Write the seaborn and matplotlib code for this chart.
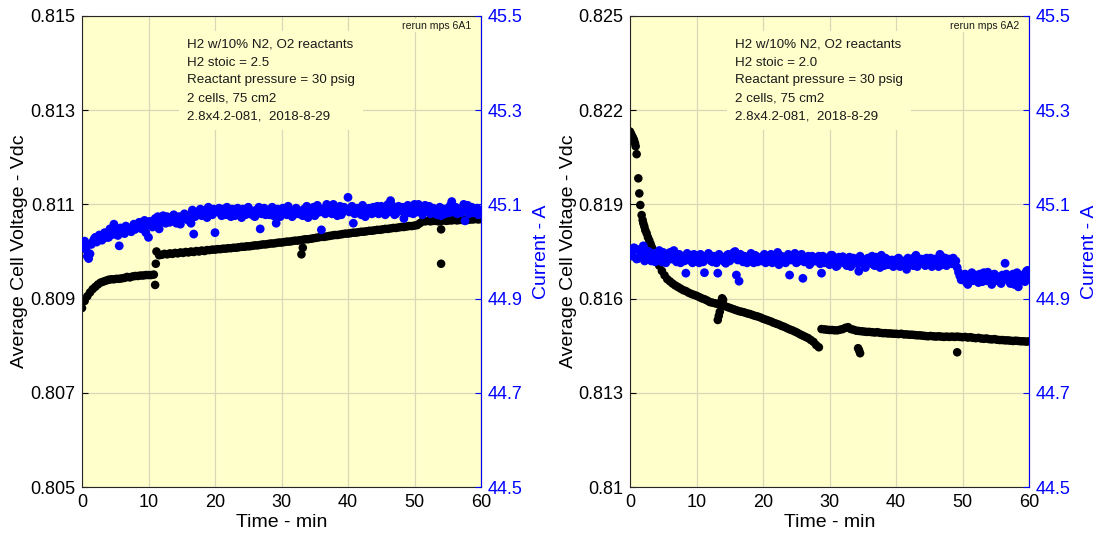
import numpy as np
import pandas as pd
import matplotlib
matplotlib.use("Agg")
import matplotlib.pyplot as plt
import seaborn as sns

sns.set_theme(style="white")
plt.rcParams["font.family"] = ["Liberation Sans", "DejaVu Sans"]

# ---------------- data ----------------
# regular sampling every 0.4 min, 0 .. 60 min (rows of 10 = 4 minutes)
t_reg = [round(0.4 * k, 1) for k in range(151)]
# in-between samples at 0.2, 0.6, ... 59.8 min (current only)
t_mid = [round(0.2 + 0.4 * k, 1) for k in range(150)]

# Left panel (mps 6A1): average cell voltage, V
left_voltage = [
    0.80880, 0.80895, 0.80905, 0.80913, 0.80920, 0.80925, 0.80930, 0.80934, 0.80936, 0.80938,
    0.80940, 0.80941, 0.80941, 0.80942, 0.80942, 0.80943, 0.80944, 0.80946, 0.80945, 0.80947,
    0.80948, 0.80948, 0.80949, 0.80949, 0.80950, 0.80950, 0.80950, 0.80951, 0.81000, 0.80992,
    0.80993, 0.80995, 0.80994, 0.80996, 0.80995, 0.80997, 0.80996, 0.80998, 0.80997, 0.80999,
    0.80998, 0.81000, 0.80999, 0.81001, 0.81000, 0.81002, 0.81001, 0.81003, 0.81003, 0.81004,
    0.81004, 0.81005, 0.81005, 0.81006, 0.81006, 0.81007, 0.81007, 0.81008, 0.81008, 0.81009,
    0.81010, 0.81010, 0.81011, 0.81011, 0.81012, 0.81013, 0.81013, 0.81014, 0.81015, 0.81015,
    0.81016, 0.81017, 0.81017, 0.81018, 0.81019, 0.81019, 0.81020, 0.81021, 0.81021, 0.81022,
    0.81023, 0.81023, 0.81024, 0.81025, 0.81026, 0.81026, 0.81027, 0.81028, 0.81029, 0.81030,
    0.81031, 0.81031, 0.81032, 0.81033, 0.81034, 0.81035, 0.81035, 0.81036, 0.81037, 0.81038,
    0.81038, 0.81039, 0.81040, 0.81040, 0.81041, 0.81042, 0.81042, 0.81043, 0.81044, 0.81044,
    0.81045, 0.81046, 0.81046, 0.81047, 0.81048, 0.81048, 0.81049, 0.81050, 0.81050, 0.81051,
    0.81052, 0.81052, 0.81053, 0.81054, 0.81054, 0.81055, 0.81056, 0.81060, 0.81064, 0.81064,
    0.81065, 0.81064, 0.81065, 0.81065, 0.81064, 0.81065, 0.81066, 0.81065, 0.81066, 0.81066,
    0.81067, 0.81066, 0.81067, 0.81067, 0.81068, 0.81067, 0.81068, 0.81068, 0.81069, 0.81068,
    0.81069,
]
left_outlier_t = [11.0, 11.1, 33.0, 33.2, 54.0, 54.0]
left_outlier_v = [0.80929, 0.80974, 0.80994, 0.81008, 0.80974, 0.81047]

# Left panel: current, A (at t_reg)
left_current = [
    45.010, 45.022, 44.990, 44.995, 45.020, 45.030, 45.025, 45.032, 45.028, 45.036,
    45.030, 45.042, 45.058, 45.040, 45.012, 45.044, 45.038, 45.048, 45.044, 45.052,
    45.047, 45.055, 45.050, 45.060, 45.040, 45.030, 45.062, 45.058, 45.068, 45.048,
    45.070, 45.066, 45.074, 45.062, 45.070, 45.064, 45.072, 45.058, 45.070, 45.075,
    45.066, 45.060, 45.037, 45.080, 45.084, 45.076, 45.082, 45.072, 45.086, 45.078,
    45.040, 45.088, 45.082, 45.090, 45.078, 45.084, 45.074, 45.088, 45.080, 45.086,
    45.072, 45.084, 45.090, 45.080, 45.086, 45.074, 45.082, 45.048, 45.088, 45.078,
    45.084, 45.090, 45.076, 45.060, 45.086, 45.080, 45.090, 45.078, 45.084, 45.074,
    45.088, 45.080, 45.086, 45.076, 45.082, 45.072, 45.086, 45.094, 45.080, 45.088,
    45.046, 45.084, 45.100, 45.092, 45.080, 45.088, 45.076, 45.096, 45.084, 45.088,
    45.115, 45.086, 45.060, 45.090, 45.082, 45.078, 45.090, 45.084, 45.092, 45.080,
    45.088, 45.096, 45.082, 45.090, 45.078, 45.100, 45.108, 45.090, 45.080, 45.096,
    45.086, 45.070, 45.088, 45.082, 45.092, 45.100, 45.084, 45.092, 45.078, 45.098,
    45.086, 45.080, 45.092, 45.082, 45.088, 45.076, 45.090, 45.084, 45.082, 45.106,
    45.088, 45.080, 45.086, 45.092, 45.065, 45.098, 45.086, 45.082, 45.090, 45.078,
    45.086,
]
# Left panel: current, A (at t_mid)
left_current_mid = [
    45.018, 45.004, 44.985, 45.015, 45.026, 45.020, 45.035, 45.024, 45.040, 45.030,
    45.048, 45.036, 45.046, 45.034, 45.050, 45.040, 45.054, 45.046, 45.042, 45.058,
    45.052, 45.062, 45.048, 45.066, 45.056, 45.064, 45.052, 45.070, 45.074, 45.062,
    45.076, 45.060, 45.072, 45.068, 45.078, 45.060, 45.074, 45.068, 45.080, 45.072,
    45.078, 45.088, 45.074, 45.084, 45.090, 45.080, 45.088, 45.094, 45.082, 45.090,
    45.084, 45.092, 45.076, 45.086, 45.094, 45.082, 45.090, 45.076, 45.092, 45.084,
    45.090, 45.078, 45.094, 45.084, 45.076, 45.088, 45.094, 45.080, 45.092, 45.086,
    45.078, 45.094, 45.084, 45.090, 45.074, 45.092, 45.082, 45.096, 45.086, 45.080,
    45.092, 45.084, 45.078, 45.090, 45.096, 45.082, 45.088, 45.076, 45.098, 45.084,
    45.090, 45.080, 45.094, 45.086, 45.100, 45.082, 45.092, 45.078, 45.094, 45.090,
    45.084, 45.096, 45.080, 45.092, 45.086, 45.098, 45.074, 45.090, 45.084, 45.094,
    45.090, 45.080, 45.096, 45.086, 45.092, 45.084, 45.098, 45.078, 45.092, 45.088,
    45.094, 45.082, 45.098, 45.088, 45.080, 45.092, 45.100, 45.086, 45.094, 45.090,
    45.096, 45.084, 45.090, 45.078, 45.094, 45.088, 45.080, 45.092, 45.098, 45.084,
    45.094, 45.090, 45.082, 45.100, 45.088, 45.080, 45.094, 45.086, 45.092, 45.084,
]

# Right panel (mps 6A2): early fast decay sampled at the dots visible
right_early_t = [0.0, 0.15, 0.3, 0.45, 0.6, 0.75, 0.85, 1.0, 1.25, 1.4, 1.55, 1.75,
                 1.9, 2.0, 2.15, 2.3, 2.5, 2.7, 2.9, 3.1, 3.3, 3.5, 3.7]
right_early_v = [0.82132, 0.82125, 0.82118, 0.82112, 0.82105, 0.82095, 0.82085, 0.82060,
                 0.81983, 0.81935, 0.81898, 0.81866, 0.81850, 0.81840, 0.81830, 0.81818,
                 0.81808, 0.81795, 0.81785, 0.81774, 0.81763, 0.81752, 0.81741]
# then every 0.4 min from 4.0 to 60.0
right_voltage = [
    0.81725, 0.81705, 0.81688, 0.81674, 0.81662, 0.81655, 0.81648, 0.81642, 0.81637, 0.81632,
    0.81627, 0.81624, 0.81619, 0.81615, 0.81612, 0.81609, 0.81605, 0.81601, 0.81598, 0.81594,
    0.81589, 0.81587, 0.81585, 0.81583, 0.81581, 0.81578, 0.81575, 0.81572, 0.81569, 0.81566,
    0.81563, 0.81560, 0.81558, 0.81556, 0.81553, 0.81551, 0.81548, 0.81545, 0.81543, 0.81540,
    0.81536, 0.81533, 0.81530, 0.81527, 0.81523, 0.81520, 0.81517, 0.81513, 0.81510, 0.81506,
    0.81502, 0.81499, 0.81495, 0.81491, 0.81486, 0.81482, 0.81478, 0.81474, 0.81468, 0.81462,
    0.81452, 0.81445, 0.81503, 0.81502, 0.81501, 0.81500, 0.81500, 0.81499, 0.81499, 0.81501,
    0.81503, 0.81507, 0.81509, 0.81503, 0.81501, 0.81498, 0.81497, 0.81496, 0.81495, 0.81494,
    0.81494, 0.81493, 0.81492, 0.81493, 0.81491, 0.81490, 0.81490, 0.81489, 0.81489, 0.81488,
    0.81488, 0.81487, 0.81488, 0.81486, 0.81486, 0.81485, 0.81485, 0.81484, 0.81483, 0.81483,
    0.81482, 0.81481, 0.81480, 0.81481, 0.81480, 0.81479, 0.81480, 0.81479, 0.81478, 0.81479,
    0.81478, 0.81479, 0.81478, 0.81479, 0.81478, 0.81477, 0.81478, 0.81476, 0.81477, 0.81475,
    0.81474, 0.81475, 0.81473, 0.81472, 0.81473, 0.81471, 0.81470, 0.81471, 0.81469, 0.81468,
    0.81468, 0.81467, 0.81467, 0.81466, 0.81465, 0.81466, 0.81465, 0.81464, 0.81464, 0.81463,
    0.81464,
]
right_outlier_t = [13.2, 13.35, 13.5, 13.7, 13.85, 14.0, 34.3, 34.45, 34.6, 49.2]
right_outlier_v = [0.81532, 0.81545, 0.81558, 0.81590, 0.81601, 0.81596,
                   0.81442, 0.81435, 0.81426, 0.81429]

# Right panel: current, A (at t_reg)
right_current = [
    45.003, 44.990, 45.006, 44.985, 44.996, 45.012, 44.988, 45.000, 44.980, 44.995,
    44.986, 45.002, 44.978, 44.992, 44.984, 44.998, 45.000, 44.982, 44.990, 44.976,
    44.988, 44.954, 44.992, 44.980, 44.994, 44.985, 44.976, 44.990, 44.955, 44.984,
    44.992, 44.978, 44.986, 44.954, 44.990, 44.982, 44.975, 44.994, 44.986, 44.998,
    44.950, 44.937, 44.984, 44.990, 44.976, 44.988, 44.982, 44.992, 44.978, 44.986,
    44.990, 44.976, 44.984, 44.994, 44.980, 44.986, 44.972, 44.990, 44.982, 44.988,
    44.950, 44.984, 44.996, 44.978, 44.988, 44.943, 44.982, 44.990, 44.976, 44.986,
    44.980, 44.990, 44.954, 44.976, 44.986, 44.972, 44.992, 44.980, 44.970, 44.984,
    44.989, 44.974, 44.982, 44.968, 44.986, 44.976, 44.958, 44.980, 44.972, 44.984,
    44.976, 44.990, 44.970, 44.982, 44.966, 44.978, 44.986, 44.972, 44.980, 44.968,
    44.978, 44.986, 44.970, 44.976, 44.962, 44.980, 44.972, 44.988, 44.968, 44.976,
    44.982, 44.970, 44.978, 44.986, 44.972, 44.980, 44.968, 44.990, 44.976, 44.970,
    44.984, 44.974, 44.978, 44.966, 44.948, 44.940, 44.952, 44.930, 44.946, 44.938,
    44.950, 44.934, 44.944, 44.955, 44.938, 44.948, 44.930, 44.952, 44.942, 44.936,
    44.950, 44.975, 44.940, 44.932, 44.952, 44.944, 44.925, 44.946, 44.938, 44.958,
    44.948,
]
# Right panel: current, A (at t_mid)
right_current_mid = [
    44.995, 45.008, 44.984, 45.004, 44.992, 44.980, 45.000, 44.988, 44.996, 44.978,
    44.994, 44.982, 44.998, 44.976, 44.990, 44.984, 45.002, 44.978, 44.994, 44.986,
    44.980, 44.996, 44.984, 44.976, 44.992, 44.982, 44.994, 44.978, 44.988, 44.996,
    44.980, 44.990, 44.976, 44.994, 44.984, 44.978, 44.992, 44.980, 44.986, 45.000,
    44.982, 44.994, 44.978, 44.988, 44.982, 44.996, 44.976, 44.990, 44.984, 44.980,
    44.994, 44.982, 44.988, 44.976, 44.992, 44.998, 44.980, 44.986, 44.976, 44.994,
    44.982, 44.990, 44.976, 44.986, 44.994, 44.978, 44.984, 44.972, 44.990, 44.980,
    44.986, 44.974, 44.990, 44.982, 44.976, 44.992, 44.984, 44.968, 44.988, 44.978,
    44.984, 44.970, 44.988, 44.978, 44.982, 44.974, 44.990, 44.980, 44.966, 44.986,
    44.980, 44.972, 44.988, 44.976, 44.992, 44.970, 44.984, 44.976, 44.982, 44.972,
    44.984, 44.968, 44.980, 44.974, 44.986, 44.976, 44.970, 44.992, 44.978, 44.984,
    44.974, 44.986, 44.980, 44.968, 44.984, 44.976, 44.994, 44.972, 44.986, 44.980,
    44.976, 44.986, 44.980, 44.956, 44.940, 44.950, 44.934, 44.946, 44.955, 44.940,
    44.944, 44.952, 44.936, 44.948, 44.956, 44.940, 44.950, 44.938, 44.946, 44.932,
    44.944, 44.952, 44.938, 44.948, 44.930, 44.955, 44.942, 44.950, 44.936, 44.960,
]

x_ticks = [0, 10, 20, 30, 40, 50, 60]
left_v_ticks = [0.805, 0.807, 0.809, 0.811, 0.813, 0.815]
left_v_labels = ["0.805", "0.807", "0.809", "0.811", "0.813", "0.815"]
right_v_ticks = [0.810, 0.813, 0.816, 0.819, 0.822, 0.825]
right_v_labels = ["0.81", "0.813", "0.816", "0.819", "0.822", "0.825"]
i_ticks = [44.5, 44.7, 44.9, 45.1, 45.3, 45.5]
i_labels = ["44.5", "44.7", "44.9", "45.1", "45.3", "45.5"]

left_note = ("H2 w/10% N2, O2 reactants\nH2 stoic = 2.5\nReactant pressure = 30 psig\n"
             "2 cells, 75 cm2\n2.8x4.2-081,  2018-8-29")
right_note = ("H2 w/10% N2, O2 reactants\nH2 stoic = 2.0\nReactant pressure = 30 psig\n"
              "2 cells, 75 cm2\n2.8x4.2-081,  2018-8-29")
left_tag = "rerun mps 6A1"
right_tag = "rerun mps 6A2"

# ---------------- styling ----------------
BG = "#FFFFCC"
GRID = "#D9D7B5"
BLUE = "#0000FF"
FS_TICK = 13
FS_LABEL = 14

W, H = 1099, 545
fig = plt.figure(figsize=(W / 100, H / 100), dpi=100)


def panel(left_px, v_df, i_df, vlim, vticks, vlabels, note, tag):
    rect = [left_px / W, 1 - 487 / H, 399 / W, 471 / H]
    ax = fig.add_axes(rect)
    ax.set_facecolor(BG)
    ax.set_axisbelow(True)
    ax.grid(True, color=GRID, lw=0.9)
    sns.scatterplot(data=v_df, x="t", y="v", ax=ax, color="black", s=38,
                    linewidth=0, edgecolor="none", legend=False, zorder=3)
    ax.set_xlim(0, 60)
    ax.set_ylim(*vlim)
    ax.set_xticks(x_ticks)
    ax.set_xticklabels([str(x) for x in x_ticks])
    ax.set_yticks(vticks)
    ax.set_yticklabels(vlabels)
    ax.tick_params(axis="both", direction="in", length=4, width=0.8,
                   labelsize=FS_TICK, colors="black", pad=5)
    ax.tick_params(axis="y", right=False, left=True)
    ax.set_xlabel("Time - min", fontsize=FS_LABEL, color="black", labelpad=2)
    ax.set_ylabel("Average Cell Voltage - Vdc", fontsize=FS_LABEL, color="black", labelpad=1)
    for s in ["left", "top", "bottom", "right"]:
        ax.spines[s].set_color("#262626")
        ax.spines[s].set_linewidth(0.8)
        ax.spines[s].set_zorder(5)

    ax.text(0.263, 0.952, note, transform=ax.transAxes, ha="left", va="top",
            fontsize=9.6, linespacing=1.66, color="#1a1a1a", zorder=4,
            bbox=dict(boxstyle="square,pad=0.6", facecolor=BG, edgecolor="none"))
    ax.text(0.975, 0.979, tag, transform=ax.transAxes, ha="right", va="center",
            fontsize=7.6, color="#1a1a1a", zorder=4,
            bbox=dict(boxstyle="square,pad=0.15", facecolor=BG, edgecolor="none"))

    ax2 = ax.twinx()
    sns.scatterplot(data=i_df, x="t", y="i", ax=ax2, color=BLUE, s=40,
                    linewidth=0, edgecolor="none", legend=False)
    ax2.set_ylim(44.5, 45.5)
    ax2.set_yticks(i_ticks)
    ax2.set_yticklabels(i_labels)
    ax2.grid(False)
    ax2.tick_params(axis="y", direction="in", length=4, width=0.8,
                    labelsize=FS_TICK, colors=BLUE, pad=5)
    ax2.set_ylabel("Current - A", fontsize=FS_LABEL, color=BLUE, labelpad=7)
    for s in ["left", "top", "bottom"]:
        ax2.spines[s].set_visible(False)
    ax2.spines["right"].set_color(BLUE)
    ax2.spines["right"].set_linewidth(0.8)
    ax2.set_xlim(0, 60)
    return ax, ax2


left_v_df = pd.DataFrame({"t": t_reg + left_outlier_t, "v": left_voltage + left_outlier_v})
left_i_df = pd.DataFrame({"t": t_reg + t_mid, "i": left_current + left_current_mid})
right_v_df = pd.DataFrame({"t": right_early_t + t_reg[10:] + right_outlier_t,
                           "v": right_early_v + right_voltage + right_outlier_v})
right_i_df = pd.DataFrame({"t": t_reg + t_mid, "i": right_current + right_current_mid})

panel(82, left_v_df, left_i_df, (0.805, 0.815), left_v_ticks, left_v_labels, left_note, left_tag)
panel(630, right_v_df, right_i_df, (0.810, 0.825), right_v_ticks, right_v_labels, right_note, right_tag)

fig.savefig("out.png", dpi=100, facecolor="white")
